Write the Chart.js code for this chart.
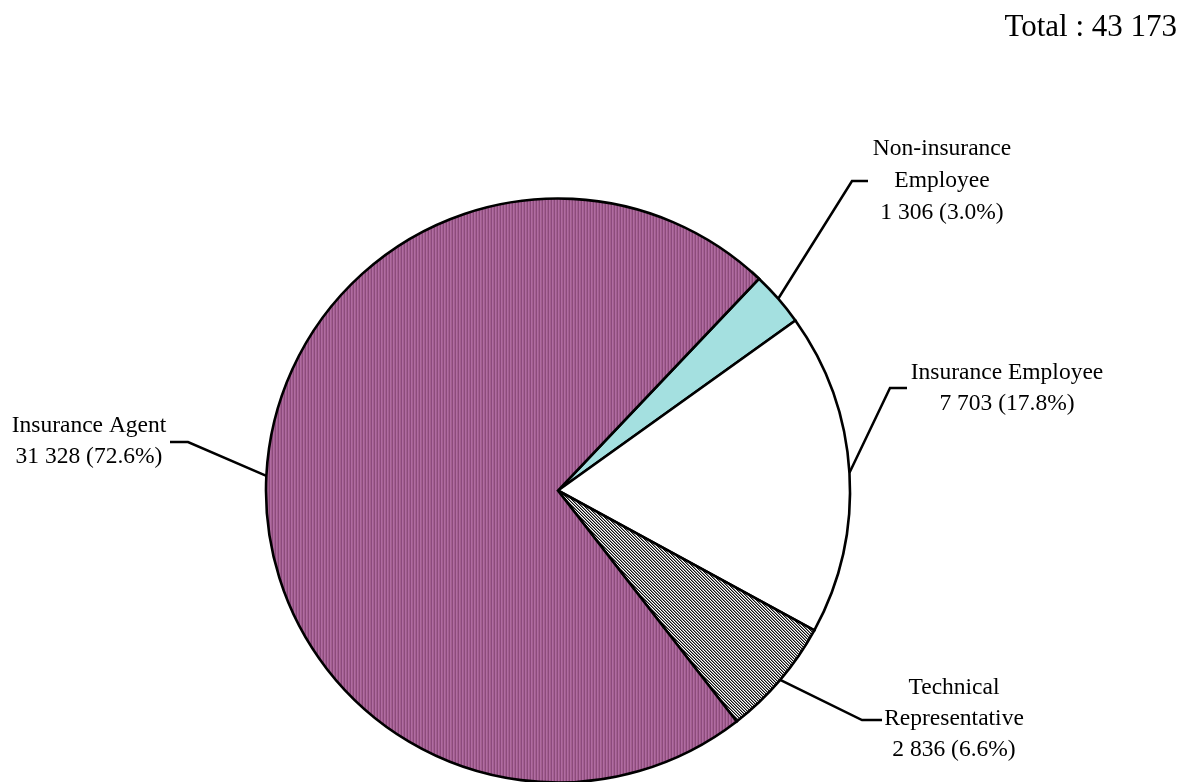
<!DOCTYPE html>
<html>
<head>
<meta charset="utf-8">
<script src="https://cdn.jsdelivr.net/npm/chart.js@4/dist/chart.umd.min.js"></script>
<style>
  html, body { margin: 0; padding: 0; background: #ffffff; }
  #wrap { position: relative; width: 1191px; height: 782px; }
</style>
</head>
<body>
<div id="wrap"><canvas id="pie" width="1191" height="782"></canvas></div>
<script>
// Employment categories (clockwise from the first slice)
const categories = ['Non-insurance Employee', 'Insurance Employee', 'Technical Representative', 'Insurance Agent'];
// Label lines shown beside each slice
const labelTitles = [['Non-insurance', 'Employee'], ['Insurance Employee'], ['Technical', 'Representative'], ['Insurance Agent']];
// Headcount per category
const headcounts = [1306, 7703, 2836, 31328];

const total = headcounts.reduce((a, b) => a + b, 0);

function fmtNum(n) {
  return String(n).replace(/\B(?=(\d{3})+(?!\d))/g, ' ');
}

// Fill patterns
function stripePattern() {
  const c = document.createElement('canvas');
  c.width = 3; c.height = 1;
  const g = c.getContext('2d');
  const cols = ['#b06ba2', '#a2608f', '#8c4a7c'];
  cols.forEach((col, i) => { g.fillStyle = col; g.fillRect(i, 0, 1, 1); });
  return g.createPattern(c, 'repeat');
}
function hatchPattern() {
  const c = document.createElement('canvas');
  c.width = 3; c.height = 3;
  const g = c.getContext('2d');
  g.fillStyle = '#ffffff'; g.fillRect(0, 0, 3, 3);
  for (let y = 0; y < 3; y++) {
    for (let x = 0; x < 3; x++) {
      const k = ((x - y) % 3 + 3) % 3;
      if (k === 0) { g.fillStyle = '#111111'; g.fillRect(x, y, 1, 1); }
      if (k === 1) { g.fillStyle = '#8a8a8a'; g.fillRect(x, y, 1, 1); }
    }
  }
  return g.createPattern(c, 'repeat');
}

const ctx0 = document.getElementById('pie').getContext('2d');
const fills = ['#a4e0e0', '#ffffff', hatchPattern(), stripePattern()];

// Callout layout: elbow point, stub end, text centre x, first line y, line step
const callouts = [
  { elbow: [852, 181], stub: [868, 181], tx: 942, ty: 149, step: 32 },
  { elbow: [890, 388], stub: [907, 388], tx: 1007, ty: 373, step: 31 },
  { elbow: [862, 720], stub: [882, 720], tx: 954, ty: 688, step: 31 },
  { elbow: [188, 442], stub: [170, 442], tx: 89, ty: 426, step: 31 }
];

const FONT = '"Liberation Serif", "Times New Roman", serif';

const calloutPlugin = {
  id: 'callouts',
  afterDatasetsDraw(chart) {
    const ctx = chart.ctx;
    const meta = chart.getDatasetMeta(0);
    ctx.save();
    meta.data.forEach((arc, i) => {
      const p = arc.getProps(['x', 'y', 'startAngle', 'endAngle', 'outerRadius'], true);
      const mid = (p.startAngle + p.endAngle) / 2;
      const ax = p.x + Math.cos(mid) * p.outerRadius;
      const ay = p.y + Math.sin(mid) * p.outerRadius;
      const c = callouts[i];
      ctx.strokeStyle = '#000000';
      ctx.lineWidth = 2.5;
      ctx.lineJoin = 'miter';
      ctx.beginPath();
      ctx.moveTo(ax, ay);
      ctx.lineTo(c.elbow[0], c.elbow[1]);
      ctx.lineTo(c.stub[0], c.stub[1]);
      ctx.stroke();

      const pct = (headcounts[i] / total * 100).toFixed(1);
      const lines = labelTitles[i].concat([fmtNum(headcounts[i]) + ' (' + pct + '%)']);
      ctx.fillStyle = '#000000';
      ctx.font = '23.5px ' + FONT;
      ctx.textAlign = 'center';
      ctx.textBaseline = 'middle';
      lines.forEach((t, k) => ctx.fillText(t, c.tx, c.ty + k * c.step));
    });
    ctx.font = '31px ' + FONT;
    ctx.textAlign = 'right';
    ctx.textBaseline = 'middle';
    ctx.fillText('Total : ' + fmtNum(total), 1177, 28);
    ctx.restore();
  }
};

new Chart(ctx0, {
  type: 'pie',
  data: {
    labels: categories,
    datasets: [{
      data: headcounts,
      backgroundColor: fills,
      borderColor: '#000000',
      borderWidth: 2.6,
      borderJoinStyle: 'miter',
      radius: 292,
      clip: false
    }]
  },
  options: {
    responsive: false,
    animation: false,
    events: [],
    rotation: 43.5,
    layout: { padding: { left: 0, right: 75, top: 199, bottom: 0 } },
    plugins: {
      legend: { display: false },
      tooltip: { enabled: false },
      title: { display: false }
    }
  },
  plugins: [calloutPlugin]
});
</script>
</body>
</html>
